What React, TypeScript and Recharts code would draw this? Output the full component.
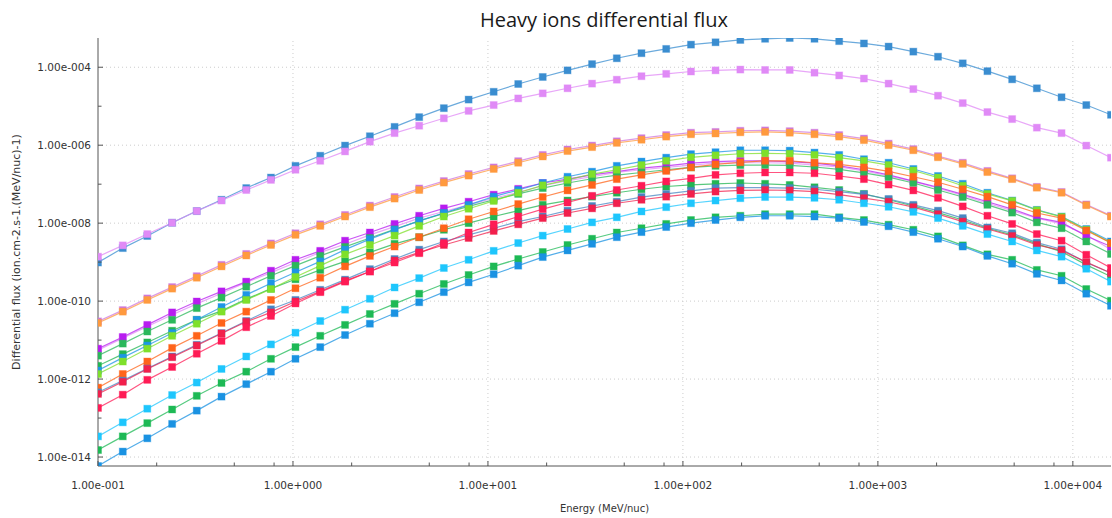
import React from "react";
import { LineChart, Line, XAxis, YAxis, ReferenceLine } from "recharts";

// Energy grid (MeV/nuc)
const energies = [
  0.1, 0.134, 0.179, 0.24, 0.321, 0.43, 0.576, 0.771, 1.03, 1.38, 1.85, 2.48,
  3.32, 4.44, 5.94, 7.96, 10.7, 14.3, 19.1, 25.6, 34.2, 45.8, 61.3, 82.1, 110,
  147, 197, 264, 353, 473, 633, 848, 1135, 1520, 2034, 2724, 3646, 4882, 6536,
  8750, 11720, 15690,
];

// log10 of differential flux, one value per energy
const blueTop = [-9.01, -8.64, -8.33, -7.99, -7.69, -7.40, -7.10, -6.83, -6.53, -6.27, -6.01, -5.77, -5.53, -5.28, -5.05, -4.83, -4.63, -4.43, -4.25, -4.08, -3.92, -3.77, -3.64, -3.53, -3.42, -3.36, -3.30, -3.27, -3.25, -3.27, -3.33, -3.39, -3.47, -3.60, -3.73, -3.90, -4.10, -4.31, -4.54, -4.77, -4.97, -5.22];
const violetTop = [-8.86, -8.57, -8.28, -7.99, -7.69, -7.42, -7.15, -6.89, -6.63, -6.40, -6.16, -5.91, -5.69, -5.50, -5.31, -5.12, -4.97, -4.80, -4.67, -4.54, -4.42, -4.32, -4.23, -4.17, -4.11, -4.08, -4.06, -4.07, -4.07, -4.14, -4.21, -4.29, -4.42, -4.56, -4.73, -4.92, -5.15, -5.33, -5.55, -5.69, -6.01, -6.32];
const orange = [-10.56, -10.27, -9.97, -9.68, -9.40, -9.11, -8.83, -8.56, -8.30, -8.07, -7.83, -7.59, -7.37, -7.15, -6.96, -6.78, -6.61, -6.45, -6.29, -6.15, -6.05, -5.94, -5.86, -5.78, -5.72, -5.70, -5.67, -5.66, -5.68, -5.72, -5.78, -5.87, -6.00, -6.13, -6.31, -6.48, -6.69, -6.87, -7.09, -7.22, -7.54, -7.83];
const mauve = [-10.52, -10.23, -9.93, -9.64, -9.36, -9.07, -8.79, -8.52, -8.26, -8.03, -7.79, -7.55, -7.33, -7.11, -6.92, -6.74, -6.57, -6.41, -6.25, -6.11, -6.01, -5.90, -5.82, -5.74, -5.68, -5.66, -5.63, -5.62, -5.64, -5.68, -5.74, -5.83, -5.96, -6.10, -6.28, -6.45, -6.66, -6.85, -7.07, -7.20, -7.52, -7.81];
const purple = [-11.22, -10.92, -10.61, -10.29, -10.01, -9.75, -9.50, -9.22, -8.94, -8.71, -8.45, -8.24, -8.02, -7.81, -7.62, -7.45, -7.27, -7.12, -6.97, -6.87, -6.76, -6.68, -6.59, -6.53, -6.46, -6.42, -6.40, -6.40, -6.42, -6.46, -6.53, -6.63, -6.76, -6.92, -7.08, -7.26, -7.45, -7.64, -7.86, -7.98, -8.33, -8.60];
const violet = [-11.26, -10.95, -10.65, -10.35, -10.07, -9.80, -9.52, -9.27, -9.01, -8.75, -8.54, -8.30, -8.09, -7.87, -7.70, -7.53, -7.36, -7.21, -7.04, -6.91, -6.81, -6.70, -6.63, -6.57, -6.51, -6.46, -6.45, -6.45, -6.46, -6.51, -6.56, -6.66, -6.79, -6.93, -7.10, -7.29, -7.49, -7.68, -7.87, -8.02, -8.30, -8.68];
const greenA = [-11.40, -11.09, -10.78, -10.48, -10.18, -9.91, -9.63, -9.35, -9.09, -8.84, -8.61, -8.38, -8.16, -7.94, -7.75, -7.57, -7.40, -7.25, -7.10, -6.97, -6.86, -6.77, -6.70, -6.63, -6.57, -6.53, -6.51, -6.51, -6.52, -6.56, -6.62, -6.71, -6.82, -6.97, -7.15, -7.33, -7.53, -7.73, -7.98, -8.13, -8.47, -8.79];
const greenB = [-11.66, -11.36, -11.06, -10.76, -10.48, -10.25, -9.95, -9.68, -9.44, -9.20, -8.98, -8.75, -8.53, -8.36, -8.17, -8.00, -7.83, -7.68, -7.53, -7.42, -7.32, -7.22, -7.13, -7.06, -7.02, -6.99, -6.97, -6.99, -7.02, -7.08, -7.15, -7.25, -7.40, -7.56, -7.73, -7.92, -8.13, -8.30, -8.53, -8.73, -9.07, -9.37];
const blueMid = [-11.78, -11.45, -11.14, -10.82, -10.48, -10.15, -9.84, -9.54, -9.26, -8.98, -8.68, -8.41, -8.17, -7.94, -7.74, -7.53, -7.32, -7.15, -6.97, -6.81, -6.68, -6.53, -6.42, -6.32, -6.23, -6.18, -6.13, -6.13, -6.14, -6.19, -6.25, -6.36, -6.45, -6.61, -6.79, -6.99, -7.22, -7.42, -7.66, -7.83, -8.15, -8.47];
const lime = [-11.87, -11.55, -11.22, -10.89, -10.58, -10.27, -9.97, -9.69, -9.38, -9.09, -8.80, -8.56, -8.32, -8.07, -7.83, -7.63, -7.43, -7.22, -7.03, -6.89, -6.74, -6.63, -6.51, -6.40, -6.31, -6.26, -6.22, -6.21, -6.22, -6.25, -6.32, -6.40, -6.51, -6.65, -6.83, -7.04, -7.25, -7.43, -7.67, -7.84, -8.17, -8.51];
const vermilion = [-12.22, -11.87, -11.55, -11.20, -10.89, -10.56, -10.27, -9.97, -9.67, -9.40, -9.11, -8.84, -8.60, -8.36, -8.13, -7.90, -7.70, -7.51, -7.33, -7.16, -7.02, -6.87, -6.76, -6.66, -6.57, -6.49, -6.44, -6.40, -6.40, -6.45, -6.49, -6.57, -6.67, -6.81, -6.95, -7.13, -7.32, -7.53, -7.74, -7.87, -8.19, -8.51];
const steel = [-12.34, -12.04, -11.73, -11.42, -11.12, -10.82, -10.51, -10.21, -9.97, -9.71, -9.45, -9.18, -8.92, -8.68, -8.47, -8.30, -8.13, -7.96, -7.83, -7.68, -7.56, -7.45, -7.33, -7.25, -7.17, -7.10, -7.09, -7.09, -7.10, -7.13, -7.19, -7.26, -7.38, -7.53, -7.68, -7.87, -8.11, -8.26, -8.50, -8.67, -9.01, -9.28];
const redA = [-12.38, -12.07, -11.74, -11.44, -11.14, -10.83, -10.53, -10.29, -10.01, -9.75, -9.48, -9.24, -8.96, -8.75, -8.56, -8.38, -8.20, -8.03, -7.87, -7.74, -7.62, -7.49, -7.40, -7.32, -7.25, -7.19, -7.16, -7.15, -7.16, -7.19, -7.27, -7.36, -7.45, -7.59, -7.77, -7.96, -8.15, -8.33, -8.56, -8.70, -9.00, -9.28];
const redB = [-12.74, -12.40, -12.02, -11.69, -11.35, -11.02, -10.67, -10.38, -10.06, -9.77, -9.50, -9.24, -9.01, -8.77, -8.51, -8.24, -8.03, -7.83, -7.64, -7.47, -7.30, -7.15, -7.04, -6.93, -6.85, -6.76, -6.72, -6.70, -6.70, -6.72, -6.79, -6.87, -7.01, -7.16, -7.35, -7.57, -7.81, -8.02, -8.28, -8.45, -8.81, -9.15];
const cyan = [-13.47, -13.11, -12.76, -12.41, -12.09, -11.74, -11.42, -11.11, -10.81, -10.51, -10.22, -9.94, -9.65, -9.41, -9.15, -8.94, -8.71, -8.51, -8.32, -8.15, -7.98, -7.85, -7.70, -7.59, -7.49, -7.42, -7.36, -7.33, -7.33, -7.35, -7.40, -7.49, -7.58, -7.71, -7.87, -8.07, -8.28, -8.47, -8.70, -8.86, -9.17, -9.50];
const greenLow = [-13.82, -13.47, -13.13, -12.78, -12.43, -12.10, -11.81, -11.48, -11.18, -10.89, -10.61, -10.33, -10.07, -9.81, -9.56, -9.33, -9.11, -8.92, -8.74, -8.56, -8.40, -8.24, -8.13, -8.02, -7.92, -7.85, -7.81, -7.77, -7.77, -7.77, -7.85, -7.92, -8.04, -8.17, -8.34, -8.57, -8.80, -8.94, -9.20, -9.35, -9.69, -9.99];
const blueLow = [-14.23, -13.86, -13.52, -13.15, -12.81, -12.45, -12.13, -11.81, -11.48, -11.18, -10.87, -10.58, -10.31, -10.03, -9.77, -9.52, -9.31, -9.09, -8.87, -8.70, -8.53, -8.36, -8.23, -8.10, -8.00, -7.92, -7.85, -7.81, -7.81, -7.83, -7.87, -7.97, -8.08, -8.23, -8.40, -8.60, -8.84, -9.04, -9.30, -9.47, -9.81, -10.12];

// axis ticks
const xMajorTicks = [0.1, 1, 10, 100, 1000, 10000];
const xMinorTicks = [0.2, 0.5, 0.8, 2, 5, 8, 20, 50, 80, 200, 500, 800, 2000, 5000, 8000];
const yTickExponents = [-14, -13, -12, -11, -10, -9, -8, -7, -6, -5, -4];
const yLabelExponents = [-14, -12, -10, -8, -6, -4];

// draw order: later entries sit on top
const series = [
  { key: "blueTop", color: "#3a8dd0", logFlux: blueTop },
  { key: "violetTop", color: "#e08af6", logFlux: violetTop },
  { key: "mauve", color: "#cf78dc", logFlux: mauve },
  { key: "orange", color: "#ff9a3e", logFlux: orange },
  { key: "violet", color: "#e08cf5", logFlux: violet },
  { key: "purple", color: "#b81cf0", logFlux: purple },
  { key: "greenA", color: "#2bb85b", logFlux: greenA },
  { key: "greenB", color: "#22b552", logFlux: greenB },
  { key: "blueMid", color: "#1d96e6", logFlux: blueMid },
  { key: "lime", color: "#7fe02b", logFlux: lime },
  { key: "vermilion", color: "#ff641a", logFlux: vermilion },
  { key: "steel", color: "#4886c2", logFlux: steel },
  { key: "redA", color: "#f2204c", logFlux: redA },
  { key: "redB", color: "#ff1b55", logFlux: redB },
  { key: "cyan", color: "#1ec6fd", logFlux: cyan },
  { key: "greenLow", color: "#1db955", logFlux: greenLow },
  { key: "blueLow", color: "#1a92e2", logFlux: blueLow },
];

const data = energies.map((energy, i) => {
  const row: Record<string, number> = { energy };
  series.forEach((s) => {
    row[s.key] = Math.pow(10, s.logFlux[i]);
  });
  return row;
});

const allLog = series.flatMap((s) => s.logFlux);
const yDomain = [Math.pow(10, Math.min(...allLog)), Math.pow(10, Math.max(...allLog))];
const xDomain = [energies[0], energies[energies.length - 1]];

const axisColor = "#555";
const labelFont = "'DejaVu Sans', sans-serif";

const sciLabel = (exp: number) =>
  `1.00e${exp < 0 ? "-" : "+"}${String(Math.abs(exp)).padStart(3, "0")}`;

const isMajorX = (v: number) => xMajorTicks.includes(v);
const expOf = (v: number) => Math.round(Math.log10(v));

const BottomTick = (props: any) => {
  const { x, y, payload } = props;
  const major = isMajorX(payload.value);
  return (
    <g>
      <line x1={x} x2={x} y1={y} y2={y - (major ? 5 : 3.5)} stroke={axisColor} />
      {major && (
        <text x={x} y={y + 23} textAnchor="middle" fill="#333" fontSize={10.5} fontFamily={labelFont}>
          {sciLabel(expOf(payload.value))}
        </text>
      )}
    </g>
  );
};

const TopTick = (props: any) => {
  const { x, y, payload } = props;
  const major = isMajorX(payload.value);
  return <line x1={x} x2={x} y1={y} y2={y + (major ? 5 : 3.5)} stroke={axisColor} />;
};

const LeftTick = (props: any) => {
  const { x, y, payload } = props;
  const exp = expOf(payload.value);
  const major = yLabelExponents.includes(exp);
  return (
    <g>
      <line x1={x} x2={x + (major ? 5 : 3.5)} y1={y} y2={y} stroke={axisColor} />
      {major && (
        <text x={x - 7} y={y + 3.8} textAnchor="end" fill="#333" fontSize={10.5} fontFamily={labelFont}>
          {sciLabel(exp)}
        </text>
      )}
    </g>
  );
};

const RightTick = (props: any) => {
  const { x, y, payload } = props;
  const major = yLabelExponents.includes(expOf(payload.value));
  return <line x1={x} x2={x - (major ? 5 : 3.5)} y1={y} y2={y} stroke={axisColor} />;
};

const squareDot = (color: string) => (props: any) => {
  const { cx, cy, index } = props;
  if (cx == null || cy == null) return <g key={index} />;
  return (
    <rect
      key={index}
      x={cx - 3.5}
      y={cy - 3.5}
      width={7}
      height={7}
      fill={color}
      stroke={color}
      strokeOpacity={0.35}
      strokeWidth={1}
    />
  );
};

const yTicks = yTickExponents.map((e) => Math.pow(10, e));
const yGrid = yLabelExponents.map((e) => Math.pow(10, e));
const xGrid = xMajorTicks.slice(1);

export default function App() {
  return (
    <div style={{ position: "absolute", left: 0, top: 0, width: 1112, height: 518, background: "#fff" }}>
      <LineChart width={1112} height={518} data={data} margin={{ top: 38, right: 1, left: 0, bottom: 0 }}>
        <XAxis
          dataKey="energy"
          type="number"
          scale="log"
          domain={xDomain}
          allowDataOverflow
          ticks={[...xMajorTicks, ...xMinorTicks]}
          interval={0}
          tickSize={0}
          tickMargin={0}
          tickLine={false}
          tick={BottomTick}
          axisLine={{ stroke: axisColor }}
          height={52}
        />
        <XAxis
          xAxisId="top"
          orientation="top"
          type="number"
          scale="log"
          domain={xDomain}
          allowDataOverflow
          ticks={[...xMajorTicks, ...xMinorTicks]}
          interval={0}
          tickSize={0}
          tickMargin={0}
          tickLine={false}
          tick={TopTick}
          axisLine={{ stroke: axisColor }}
          height={0}
        />
        <YAxis
          type="number"
          scale="log"
          domain={yDomain}
          allowDataOverflow
          ticks={yTicks}
          interval={0}
          tickSize={0}
          tickMargin={0}
          tickLine={false}
          tick={LeftTick}
          axisLine={{ stroke: axisColor }}
          width={98}
        />
        <YAxis
          yAxisId="right"
          orientation="right"
          type="number"
          scale="log"
          domain={yDomain}
          allowDataOverflow
          ticks={yTicks}
          interval={0}
          tickSize={0}
          tickMargin={0}
          tickLine={false}
          tick={RightTick}
          axisLine={{ stroke: axisColor }}
          width={0}
        />
        {yGrid.map((v) => (
          <ReferenceLine key={`gy${v}`} y={v} stroke="#cccccc" strokeDasharray="1 3" />
        ))}
        {xGrid.map((v) => (
          <ReferenceLine key={`gx${v}`} x={v} stroke="#cccccc" strokeDasharray="1 3" />
        ))}
        {series.map((s) => (
          <Line
            key={s.key}
            dataKey={s.key}
            type="linear"
            stroke={s.color}
            strokeOpacity={0.75}
            strokeWidth={1.2}
            dot={squareDot(s.color)}
            activeDot={false}
            isAnimationActive={false}
          />
        ))}
      </LineChart>
      <svg
        width={1112}
        height={518}
        style={{ position: "absolute", left: 0, top: 0, pointerEvents: "none" }}
      >
        <text x={604} y={26.7} textAnchor="middle" fontSize={20} fill="#1a1a1a" fontFamily="'Open Sans', sans-serif">
          Heavy ions differential flux
        </text>
        <text x={604.5} y={512} textAnchor="middle" fontSize={10} fill="#333" fontFamily={labelFont}>
          Energy (MeV/nuc)
        </text>
        <text
          x={20}
          y={252}
          textAnchor="middle"
          fontSize={11}
          fill="#333"
          fontFamily={labelFont}
          transform="rotate(-90 20 252)"
        >
          Differential flux (ion.cm-2.s-1.(MeV/nuc)-1)
        </text>
      </svg>
    </div>
  );
}
